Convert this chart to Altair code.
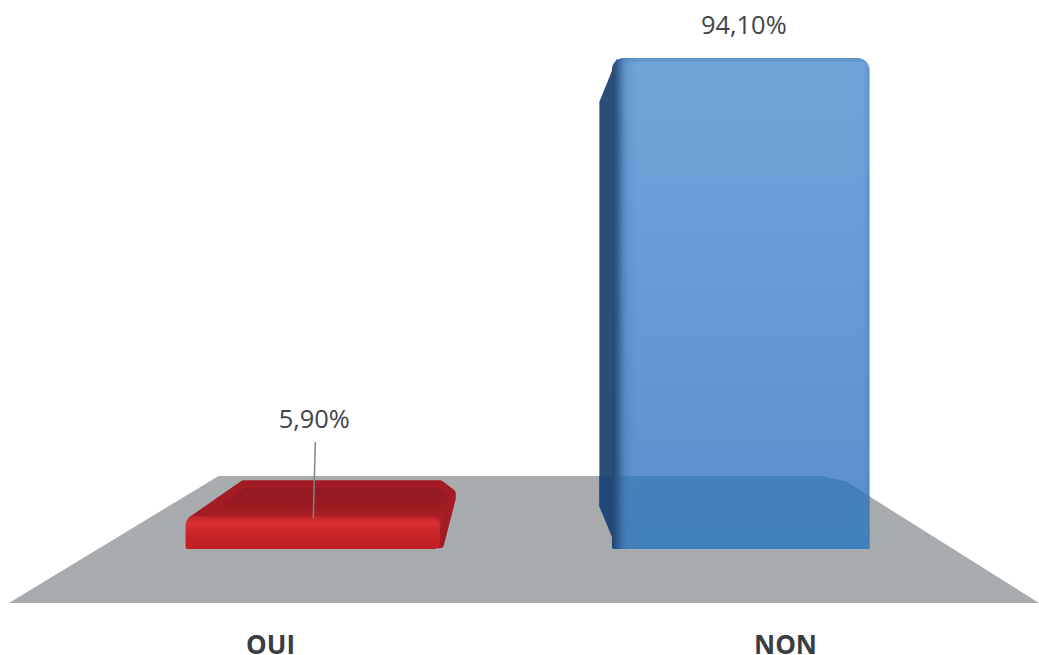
import altair as alt
import pandas as pd

categories = ["OUI", "NON"]
shares = [5.9, 94.1]

# Plot units: one category step on x, one percentage point on y.
X_DOMAIN = [-0.5243, 1.4932]
Y_DOMAIN = [-10.35, 105.22]
VANISH_X = 0.49
BAR_HALF = 0.25
BAR_SHIFT = 0.086
RECEDE = 0.175
DEPTH = 7.4

FLOOR_FRONT_Y = -10.35
FLOOR_BACK_Y = 14.0
FLOOR_X = [-0.507, -0.1, 1.101, 1.493]

x_scale = alt.Scale(domain=X_DOMAIN, nice=False, zero=False)
y_scale = alt.Scale(domain=Y_DOMAIN, nice=False, zero=False)
X = alt.X("x:Q", scale=x_scale, title=None)
Y = alt.Y("y:Q", scale=y_scale, axis=None)


def recede(x):
    return x + RECEDE * (VANISH_X - x)


def vertical(stops):
    return alt.Gradient(
        gradient="linear", x1=0, x2=0, y1=0, y2=1,
        stops=[alt.GradientStop(offset=o, color=c) for o, c in stops],
    )


def horizontal(stops):
    return alt.Gradient(
        gradient="linear", x1=0, x2=1, y1=0, y2=0,
        stops=[alt.GradientStop(offset=o, color=c) for o, c in stops],
    )


def polygon(xs, tops, bottoms, **mark):
    frame = pd.DataFrame({"x": xs, "y": tops, "y2": bottoms})
    return alt.Chart(frame).mark_area(orient="vertical", **mark).encode(x=X, y=Y, y2="y2:Q")


def box(x0, x1, y0, y1, **mark):
    frame = pd.DataFrame({"x": [x0], "x2": [x1], "y": [y0], "y2": [y1]})
    return alt.Chart(frame).mark_rect(**mark).encode(x=X, x2="x2:Q", y=Y, y2="y2:Q")


centres = [BAR_SHIFT, 1 - BAR_SHIFT]
red_c, blue_c = centres
red_v, blue_v = shares

# Floor of the 3D scene
floor = polygon(
    FLOOR_X,
    [FLOOR_FRONT_Y, FLOOR_BACK_Y, FLOOR_BACK_Y, FLOOR_FRONT_Y],
    [FLOOR_FRONT_Y] * 4,
    color=vertical([(0, "#a9acae"), (1, "#a8abad")]),
)

# Red bar: top and right faces behind a rounded front face
rl, rr = red_c - BAR_HALF, red_c + BAR_HALF
red_back = red_v + DEPTH
red_top = polygon(
    [rl + 0.012, recede(rl) - 0.002, rr - 0.006, recede(rr) - 0.01],
    [red_v - 0.4, red_back - 0.9, red_back - 0.9, red_back - 2.6],
    [red_v - 3, red_v - 3, 0.9, red_back - 3.6],
    color=vertical([(0, "#8f1a20"), (0.4, "#9e1b22"), (0.62, "#b42126"), (1, "#b42126")]),
    stroke="#a31c23",
    strokeWidth=8,
    strokeJoin="round",
)
red_front = box(
    rl, rr - 0.006, 0, red_v + 0.4,
    cornerRadiusTopLeft=9, cornerRadiusTopRight=9,
    cornerRadiusBottomLeft=2, cornerRadiusBottomRight=6,
    color=vertical([(0, "#bd2528"), (0.22, "#da3031"), (0.48, "#cb2529"), (1, "#bf2026")]),
)

# Blue bar: receding left face, then the front face with its shaded rims
bl, br = blue_c - BAR_HALF, blue_c + BAR_HALF
side_back = recede(bl) + 0.006
blue_side = polygon(
    [side_back, bl + 0.01],
    [blue_v - DEPTH - 1, blue_v],
    [DEPTH + 0.8, 0],
    color="#2a4e78",
)
blue_side_floor = polygon(
    [side_back, bl + 0.01],
    [FLOOR_BACK_Y, FLOOR_BACK_Y],
    [DEPTH + 0.8, 0],
    color="#20497a",
)
rounded = dict(
    cornerRadiusTopLeft=12, cornerRadiusTopRight=12,
    cornerRadiusBottomLeft=3, cornerRadiusBottomRight=3,
)
blue_front = box(
    bl, br, 0, blue_v,
    color=vertical([(0, "#5c90c8"), (0.012, "#70a5da"), (0.5, "#679ad4"), (1, "#5a8ecb")]),
    **rounded,
)

# Part of the blue bar where the floor shows through it
edge_frac = (br - FLOOR_X[2]) / (FLOOR_X[3] - FLOOR_X[2])
edge_y = FLOOR_BACK_Y + edge_frac * (FLOOR_FRONT_Y - FLOOR_BACK_Y)
blue_floor = polygon(
    [bl, FLOOR_X[2] - 0.03, FLOOR_X[2] + 0.02, br],
    [FLOOR_BACK_Y, FLOOR_BACK_Y, FLOOR_BACK_Y - 1.1, edge_y],
    [0, 0, 0, 0],
    color=vertical([(0, "#4481ba"), (1, "#3f7fbc")]),
)
blue_rims = box(
    bl, br, 0, blue_v,
    color=horizontal([
        (0, "rgba(34,70,112,1)"),
        (0.02, "rgba(40,80,125,0.85)"),
        (0.055, "rgba(70,120,175,0.35)"),
        (0.1, "rgba(90,143,204,0)"),
        (0.97, "rgba(90,143,204,0)"),
        (1, "rgba(70,120,175,0.4)"),
    ]),
    **rounded,
)

# Leader line from the small bar up to its label
leader = alt.Chart(pd.DataFrame({"x": [red_c + 0.002, red_c - 0.002], "y": [20.5, red_v]})).mark_line(
    color="#7e8486", strokeWidth=1.5
).encode(x=X, y=Y)

# Value labels, stated from the same shares that size the bars
label_rows = pd.DataFrame({
    "x": [c + (0 if v < 10 else 0.006) for c, v in zip(centres, shares)],
    "y": [v + (18.8 if v < 10 else 6.1) for v in shares],
    "label": [f"{v:.2f}".replace(".", ",") + "%" for v in shares],
})
value_labels = alt.Chart(label_rows).mark_text(
    font="Open Sans", fontSize=25.4, color="#414548", align="center", baseline="middle"
).encode(x=X, y=Y, text="label:N")

# Category axis below the floor
label_expr = " : ".join(f"datum.value == {i} ? '{c}'" for i, c in enumerate(categories)) + " : ''"
axis_layer = alt.Chart(pd.DataFrame({"x": [0, 1]})).mark_point(opacity=0).encode(
    x=alt.X(
        "x:Q",
        scale=x_scale,
        title=None,
        axis=alt.Axis(
            values=[0, 1],
            labelExpr=label_expr,
            domain=False,
            ticks=False,
            grid=False,
            labelFont="Open Sans",
            labelFontSize=26,
            labelFontWeight="bold",
            labelColor="#3a3e42",
            labelPadding=29,
        ),
    )
)

chart = alt.layer(
    axis_layer, floor, red_top, red_front, blue_side, blue_side_floor,
    blue_front, blue_floor, blue_rims, leader, value_labels,
).properties(
    width=1039,
    height=603,
    background="white",
    padding={"left": 0, "top": 0, "right": 0, "bottom": 52},
    autosize=alt.AutoSizeParams(type="none"),
).configure_view(stroke=None)

chart.save("out.html", embed_options={"renderer": "svg", "actions": False})
